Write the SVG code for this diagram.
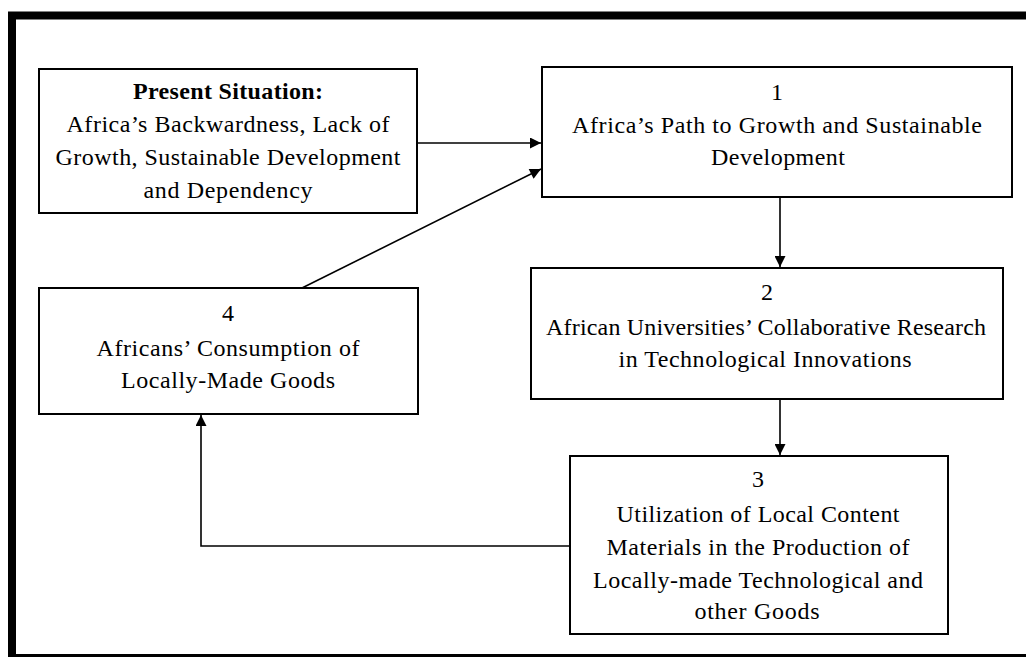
<svg xmlns="http://www.w3.org/2000/svg" width="1026" height="657" viewBox="0 0 1026 657">
<style>
.box{fill:#fff;stroke:#000;stroke-width:2}
.t{font-family:"Liberation Serif","Times New Roman",serif;font-size:24px;fill:#000;text-anchor:middle}
.b{font-weight:bold}
.c{fill:none;stroke:#000;stroke-width:1.6}
</style>
<defs>
<marker id="ah" viewBox="0 0 10 10" refX="10" refY="5" markerWidth="13" markerHeight="11" markerUnits="userSpaceOnUse" orient="auto">
<path d="M0,0 L10,5 L0,10 Z" fill="#000"/>
</marker>
</defs>
<rect width="1026" height="657" fill="#fff"/>
<rect id="frame" x="12" y="15.5" width="1040" height="642.5" fill="none" stroke="#000" stroke-width="8"/>
<g id="connectors">
<line class="c" x1="417" y1="143" x2="541" y2="143" marker-end="url(#ah)"/>
<line class="c" x1="302" y1="288" x2="541" y2="169" marker-end="url(#ah)"/>
<line class="c" x1="780" y1="197" x2="780" y2="267" marker-end="url(#ah)"/>
<line class="c" x1="780" y1="399" x2="780" y2="455" marker-end="url(#ah)"/>
<polyline class="c" points="570,546 201,546 201,415" marker-end="url(#ah)"/>
</g>
<g id="present">
<rect class="box" x="39" y="69" width="378" height="144"/>
<text class="t b" x="228" y="99" textLength="190" lengthAdjust="spacing">Present Situation:</text>
<text class="t" x="228" y="132" textLength="323" lengthAdjust="spacing">Africa’s Backwardness, Lack of</text>
<text class="t" x="228" y="165" textLength="345" lengthAdjust="spacing">Growth, Sustainable Development</text>
<text class="t" x="228" y="198" textLength="169" lengthAdjust="spacing">and Dependency</text>
</g>
<g id="node1">
<rect class="box" x="542" y="67" width="470" height="130"/>
<text class="t" x="777" y="100">1</text>
<text class="t" x="777" y="133" textLength="410" lengthAdjust="spacing">Africa’s Path to Growth and Sustainable</text>
<text class="t" x="778" y="165" textLength="134" lengthAdjust="spacing">Development</text>
</g>
<g id="node2">
<rect class="box" x="531" y="268" width="472" height="131"/>
<text class="t" x="767" y="300">2</text>
<text class="t" x="766" y="335" textLength="440" lengthAdjust="spacing">African Universities’ Collaborative Research</text>
<text class="t" x="765" y="367" textLength="293" lengthAdjust="spacing">in Technological Innovations</text>
</g>
<g id="node3">
<rect class="box" x="570" y="456" width="378" height="178"/>
<text class="t" x="758" y="487">3</text>
<text class="t" x="758" y="522" textLength="283" lengthAdjust="spacing">Utilization of Local Content</text>
<text class="t" x="758" y="555" textLength="303" lengthAdjust="spacing">Materials in the Production of</text>
<text class="t" x="758" y="588" textLength="330" lengthAdjust="spacing">Locally-made Technological and</text>
<text class="t" x="757" y="619" textLength="125" lengthAdjust="spacing">other Goods</text>
</g>
<g id="node4">
<rect class="box" x="39" y="288" width="379" height="126"/>
<text class="t" x="228" y="321">4</text>
<text class="t" x="228" y="356" textLength="263" lengthAdjust="spacing">Africans’ Consumption of</text>
<text class="t" x="228" y="388" textLength="214" lengthAdjust="spacing">Locally-Made Goods</text>
</g>
</svg>
